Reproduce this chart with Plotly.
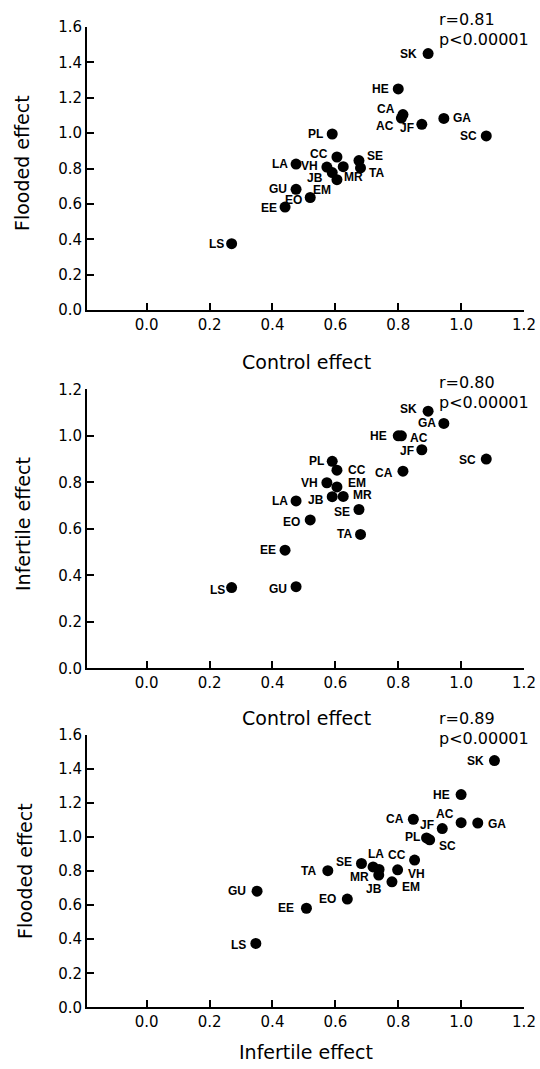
import plotly.graph_objects as go

# ---- data ----
sites = ["SK", "HE", "CA", "AC", "JF", "GA", "SC", "PL", "CC", "SE",
         "TA", "LA", "VH", "MR", "JB", "EM", "GU", "EO", "EE", "LS"]
control = [0.895, 0.800, 0.815, 0.810, 0.875, 0.945, 1.080, 0.590, 0.605, 0.675,
           0.680, 0.475, 0.573, 0.625, 0.590, 0.605, 0.475, 0.520, 0.440, 0.270]
flooded = [1.450, 1.250, 1.105, 1.085, 1.050, 1.083, 0.984, 0.995, 0.865, 0.845,
           0.803, 0.825, 0.808, 0.810, 0.777, 0.737, 0.682, 0.636, 0.582, 0.375]
infertile = [1.106, 1.000, 0.848, 1.000, 0.940, 1.053, 0.900, 0.890, 0.852, 0.683,
             0.576, 0.720, 0.798, 0.739, 0.738, 0.780, 0.351, 0.638, 0.508, 0.347]

x_ticks = [0.0, 0.2, 0.4, 0.6, 0.8, 1.0, 1.2]
y_ticks_16 = [0.0, 0.2, 0.4, 0.6, 0.8, 1.0, 1.2, 1.4, 1.6]
y_ticks_12 = [0.0, 0.2, 0.4, 0.6, 0.8, 1.0, 1.2]

stats = [("r=0.81", "p<0.00001"), ("r=0.80", "p<0.00001"), ("r=0.89", "p<0.00001")]

# ---- label placement (style): anchor, dx, dy (pixels, dy>0 = down) ----
pos1 = {"SK": ("r", -9, 0), "HE": ("r", -7, 0), "CA": ("r", -6, -6), "AC": ("r", -5, 8),
        "JF": ("r", -6, 4), "GA": ("l", 7, 0), "SC": ("r", -7, 0), "PL": ("r", -7, 0),
        "CC": ("r", -7, -3), "SE": ("l", 6, -5), "TA": ("l", 6, 5), "LA": ("r", -6, 0),
        "VH": ("r", -7, -1), "MR": ("l", -1, 10), "JB": ("r", -7, 5), "EM": ("r", -4, 10),
        "GU": ("r", -7, 0), "EO": ("r", -6, 2), "EE": ("r", -6, 1), "LS": ("r", -6, 0)}
pos2 = {"SK": ("r", -9, -2), "GA": ("r", -6, 0), "HE": ("r", -9, 0), "AC": ("l", 7, 2),
        "JF": ("r", -6, 1), "SC": ("r", -8, 1), "CA": ("r", -8, 2), "PL": ("r", -6, 0),
        "CC": ("l", 9, 0), "VH": ("r", -7, 0), "EM": ("l", 9, -4), "JB": ("r", -6, 3),
        "MR": ("l", 8, -1), "LA": ("r", -6, 0), "SE": ("r", -7, 2), "EO": ("r", -8, 2),
        "TA": ("r", -7, 0), "EE": ("r", -7, 0), "LS": ("r", -5, 2), "GU": ("r", -7, 2)}
pos3 = {"SK": ("r", -8, 0), "HE": ("r", -9, 0), "CA": ("r", -7, 0), "AC": ("r", -5, -9),
        "GA": ("l", 8, 1), "JF": ("r", -6, -4), "PL": ("r", -5, -1), "SC": ("l", 7, 6),
        "CC": ("r", -7, -5), "VH": ("l", 8, 4), "LA": ("c", 3, -13), "SE": ("r", -7, -1),
        "MR": ("r", -8, 8), "JB": ("c", -5, 14), "EM": ("l", 8, 5), "TA": ("r", -10, 0),
        "GU": ("r", -9, 0), "EE": ("r", -10, 0), "EO": ("r", -9, 0), "LS": ("r", -8, 2)}

W, H = 540, 1069
TICK_FONT = dict(family="DejaVu Sans", size=15, color="black")
LABEL_FONT = dict(family="Liberation Sans Narrow, Liberation Sans", size=12, color="black",
                  weight="bold")
TITLE_FONT = dict(family="DejaVu Sans", size=19, color="black")
STAT_FONT = dict(family="DejaVu Sans", size=16, color="black")

fig = go.Figure()

panels = [
    dict(x=control, y=flooded, pos=pos1, ymax=1.6, yt=y_ticks_16,
         dom=(310, 27), xtitle=("Control effect", 362), ytitle=("Flooded effect", 163, 22),
         stat=stats[0], sty=(20, 39)),
    dict(x=control, y=infertile, pos=pos2, ymax=1.2, yt=y_ticks_12,
         dom=(668.3, 389.3), xtitle=("Control effect", 718), ytitle=("Infertile effect", 524, 23),
         stat=stats[1], sty=(382, 402)),
    dict(x=infertile, y=flooded, pos=pos3, ymax=1.6, yt=y_ticks_16,
         dom=(1007.3, 735), xtitle=("Infertile effect", 1052), ytitle=("Flooded effect", 871, 25),
         stat=stats[2], sty=(718, 738)),
]

anchor_map = {"r": "right", "l": "left", "c": "center"}
annotations = []
for i, p in enumerate(panels):
    n = "" if i == 0 else str(i + 1)
    xa, ya = "x" + n, "y" + n
    fig.add_trace(go.Scatter(
        x=p["x"], y=p["y"], mode="markers",
        marker=dict(size=11, color="black"),
        xaxis=xa, yaxis=ya, showlegend=False, cliponaxis=False, hoverinfo="skip"))
    for s, xv, yv in zip(sites, p["x"], p["y"]):
        a, dx, dy = p["pos"][s]
        annotations.append(dict(text=s, x=xv, y=yv, xref=xa, yref=ya, showarrow=False,
                                xanchor=anchor_map[a], yanchor="middle", xshift=dx, yshift=-dy,
                                font=LABEL_FONT))
    ydom = [1 - p["dom"][0] / H, 1 - p["dom"][1] / H]
    axis_common = dict(showline=True, linecolor="black", linewidth=2, ticks="inside",
                       ticklen=7, tickwidth=1.5, tickcolor="black", showgrid=False,
                       zeroline=False, tickfont=TICK_FONT, automargin=False)
    fig.update_layout(**{
        "xaxis" + n: dict(domain=[87 / W, 524 / W], range=[-0.19, 1.2], tickvals=x_ticks,
                          ticktext=["%.1f" % v for v in x_ticks], anchor=ya, **axis_common),
        "yaxis" + n: dict(domain=ydom, range=[0, p["ymax"]], tickvals=p["yt"],
                          ticktext=["%.1f" % v for v in p["yt"]], anchor=xa, **axis_common),
    })
    annotations.append(dict(text=p["xtitle"][0], x=306 / W, y=1 - p["xtitle"][1] / H,
                            xref="paper", yref="paper", showarrow=False, font=TITLE_FONT,
                            xanchor="center", yanchor="middle"))
    annotations.append(dict(text=p["ytitle"][0], x=p["ytitle"][2] / W, y=1 - p["ytitle"][1] / H,
                            xref="paper", yref="paper", showarrow=False, font=TITLE_FONT,
                            textangle=-90, xanchor="center", yanchor="middle"))
    for line, yy in zip(p["stat"], p["sty"]):
        annotations.append(dict(text=line, x=437 / W, y=1 - yy / H, xref="paper", yref="paper",
                                showarrow=False, xanchor="left", yanchor="middle",
                                font=STAT_FONT))

fig.update_layout(width=W, height=H, margin=dict(l=0, r=0, t=0, b=0),
                  plot_bgcolor="white", paper_bgcolor="white", annotations=annotations)

fig.write_html("out.html", config={"displayModeBar": False},
               post_script="document.body.style.margin='0px';")
